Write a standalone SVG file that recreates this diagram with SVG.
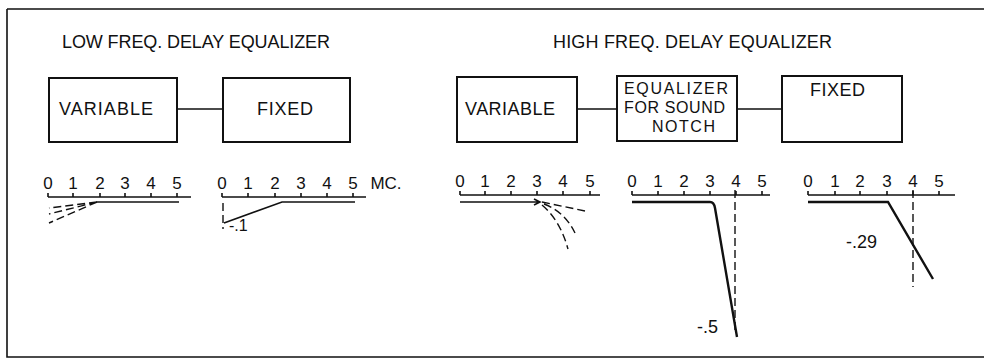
<svg xmlns="http://www.w3.org/2000/svg" width="984" height="359" viewBox="0 0 984 359">
<style>
text{font-family:"Liberation Sans",Arial,sans-serif;fill:#111}
.t{font-size:18px}
.b{font-size:18px}
.s{font-size:16px}
.n{font-size:17px;text-anchor:middle}
.box{fill:#fff;stroke:#111;stroke-width:2}
.ln{fill:none;stroke:#111;stroke-width:1.6}
.hv{fill:none;stroke:#111;stroke-width:2.4}
.ds{fill:none;stroke:#111;stroke-width:1.4;stroke-dasharray:8 4}
.ax{fill:none;stroke:#111;stroke-width:1.6}
</style>
<rect width="984" height="359" fill="#fff"/>
<path class="ax" d="M7,9 H984 M7,9 V357 H984" stroke-width="2"/>
<text class="t" x="62" y="48" textLength="268">LOW FREQ. DELAY EQUALIZER</text>
<text class="t" x="553" y="48" textLength="279">HIGH FREQ. DELAY EQUALIZER</text>
<g id="connectors">
<path class="ln" d="M177,109 H223 M577,109 H617 M737,109 H782"/>
</g>
<g id="lf-variable"><rect class="box" x="49" y="78" width="128" height="64"/><text class="b" x="59" y="115" textLength="94">VARIABLE</text></g>
<g id="lf-fixed"><rect class="box" x="223" y="78" width="127" height="64"/><text class="b" x="257" y="115" textLength="56">FIXED</text></g>
<g id="hf-variable"><rect class="box" x="457" y="77" width="120" height="65"/><text class="b" x="465" y="115" textLength="90">VARIABLE</text></g>
<g id="hf-notch"><rect class="box" x="617" y="76" width="120" height="65"/>
<text class="s" x="624" y="94" textLength="104">EQUALIZER</text>
<text class="s" x="624" y="113" textLength="101">FOR SOUND</text>
<text class="s" x="652" y="132" textLength="63">NOTCH</text></g>
<g id="hf-fixed"><rect class="box" x="782" y="76" width="120" height="66"/><text class="b" x="810" y="96" textLength="55">FIXED</text></g>
<g id="graph1">
<g class="n"><text x="48" y="189">0</text><text x="73" y="189">1</text><text x="100" y="189">2</text><text x="125" y="189">3</text><text x="151" y="189">4</text><text x="177" y="189">5</text></g>
<path class="ax" d="M48,197 H191 M48,193 V197 M73,193 V197 M100,193 V197 M125,193 V197 M151,193 V197 M177,193 V197"/>
<path class="ln" d="M97,202 H179"/>
<path class="ds" d="M97,202 L49,208 M97,202 L49,214 M97,202 L49,223"/>
</g>
<g id="graph2">
<g class="n"><text x="222" y="189">0</text><text x="248" y="189">1</text><text x="275" y="189">2</text><text x="301" y="189">3</text><text x="327" y="189">4</text><text x="353" y="189">5</text></g>
<text class="n" x="386" y="189">MC.</text>
<path class="ax" d="M222,197 H366 M222,193 V197 M248,193 V197 M275,193 V197 M301,193 V197 M327,193 V197 M353,193 V197"/>
<path class="ln" d="M224,223 L282,202 H355"/>
<path class="ds" d="M223,203 V229" stroke-dasharray="6 4"/>
<text x="229" y="231" font-size="16">-.1</text>
</g>
<g id="graph3">
<g class="n"><text x="460" y="187">0</text><text x="485" y="187">1</text><text x="511" y="187">2</text><text x="537" y="187">3</text><text x="563" y="187">4</text><text x="590" y="187">5</text></g>
<path class="ax" d="M460,195 H600 M460,191 V195 M485,191 V195 M511,191 V195 M537,191 V195 M563,191 V195 M590,191 V195"/>
<path class="ln" d="M460,202 H540 M534,199 L540,202 L534,205"/>
<path class="ds" d="M542,202 L585,211 M544,204 Q565,212 575,233 M542,205 Q560,220 568,249"/>
</g>
<g id="graph4">
<g class="n"><text x="632" y="187">0</text><text x="658" y="187">1</text><text x="684" y="187">2</text><text x="710" y="187">3</text><text x="736" y="187">4</text><text x="762" y="187">5</text></g>
<path class="ax" d="M632,195 H770 M632,191 V195 M658,191 V195 M684,191 V195 M710,191 V195 M736,191 V195 M762,191 V195"/>
<path class="hv" d="M632,202 H710 Q714,202 715,208 L737,337"/>
<path class="ds" d="M735,190 V330"/>
<text x="697" y="333" font-size="18">-.5</text>
</g>
<g id="graph5">
<g class="n"><text x="808" y="187">0</text><text x="835" y="187">1</text><text x="860" y="187">2</text><text x="887" y="187">3</text><text x="913" y="187">4</text><text x="939" y="187">5</text></g>
<path class="ax" d="M808,195 H955 M808,191 V195 M835,191 V195 M860,191 V195 M887,191 V195 M913,191 V195 M939,191 V195"/>
<path class="hv" d="M808,202 H888 L933,279"/>
<path class="ds" d="M913,190 V287"/>
<text x="846" y="248" font-size="18">-.29</text>
</g>
</svg>
